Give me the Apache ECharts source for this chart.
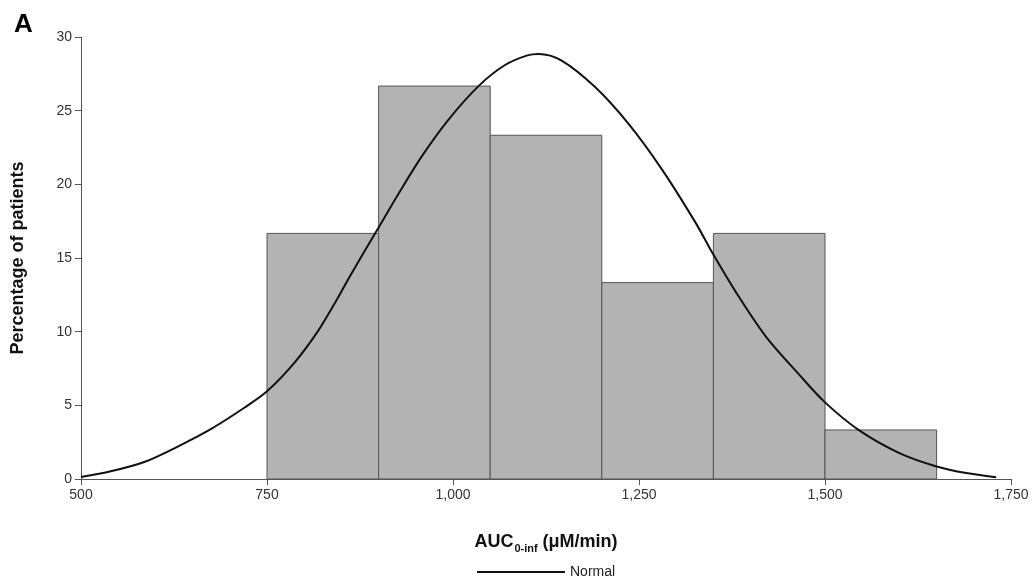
<!DOCTYPE html>
<html>
<head>
<meta charset="utf-8">
<script src="https://cdn.jsdelivr.net/npm/echarts@6/dist/echarts.min.js"></script>
<style>html,body{margin:0;padding:0;background:#fff}#c{width:1032px;height:576px}</style>
</head>
<body>
<div id="c"></div>
<script>
// Histogram bins (left edge, right edge) and percentage of patients
var binStart = [750, 900, 1050, 1200, 1350, 1500];
var binEnd   = [900, 1050, 1200, 1350, 1500, 1650];
var binPct   = [16.67, 26.67, 23.33, 13.33, 16.67, 3.33];

// Normal curve points
var normalX = [500, 540, 585, 630, 675, 720, 750, 787, 818, 843, 863, 898, 926, 958, 994, 1036, 1070, 1100, 1115, 1146, 1191, 1236, 1281, 1326, 1348, 1380, 1420, 1465, 1500, 1546, 1600, 1650, 1690, 1730];
var normalY = [0.14, 0.52, 1.15, 2.2, 3.4, 4.85, 5.95, 7.9, 10.0, 12.1, 13.9, 16.9, 19.3, 21.9, 24.4, 26.75, 28.1, 28.75, 28.85, 28.4, 26.6, 24.1, 21.0, 17.4, 15.4, 12.7, 9.7, 7.1, 5.2, 3.3, 1.76, 0.85, 0.4, 0.12];

// Axis ticks
var xTicks = [500, 750, 1000, 1250, 1500, 1750];
var yTicks = [0, 5, 10, 15, 20, 25, 30];

var FONT = 'Liberation Sans, Arial, Helvetica, sans-serif';

var histData = binStart.map(function (s, i) { return [s, binEnd[i], binPct[i]]; });
var curveData = normalX.map(function (x, i) { return [x, normalY[i]]; });

var chart = echarts.init(document.getElementById('c'), null, {renderer: 'canvas'});
chart.setOption({
  animation: false,
  backgroundColor: '#ffffff',
  title: {
    text: 'A', left: 14, top: 12, padding: 0,
    textStyle: {fontFamily: FONT, fontSize: 26, fontWeight: 'bold', color: '#000'}
  },
  grid: {left: 81, right: 21, top: 37, bottom: 97, containLabel: false, outerBoundsMode: 'none'},
  legend: {
    data: ['Normal'],
    left: 472, top: 560,
    icon: 'rect', itemWidth: 88, itemHeight: 2, itemGap: 6,
    textStyle: {fontFamily: FONT, fontSize: 14, color: '#222'}
  },
  xAxis: {
    type: 'value', min: xTicks[0], max: xTicks[xTicks.length - 1], interval: 250,
    axisLine: {show: true, lineStyle: {color: '#555', width: 1}},
    axisTick: {show: true, length: 6, lineStyle: {color: '#555'}},
    splitLine: {show: false},
    axisLabel: {
      margin: 9, fontFamily: FONT, fontSize: 14, color: '#333',
      formatter: function (v) { return v.toLocaleString('en-US'); }
    },
    name: '{b|AUC}{s|0-inf}{b| (μM/min)}',
    nameLocation: 'middle', nameGap: 51,
    nameTextStyle: {
      rich: {
        b: {fontFamily: FONT, fontSize: 18, fontWeight: 'bold', color: '#111', lineHeight: 24, verticalAlign: 'middle'},
        s: {fontFamily: FONT, fontSize: 11, fontWeight: 'bold', color: '#111', lineHeight: 24, verticalAlign: 'bottom', padding: [11, 0, 0, 1]}
      }
    }
  },
  yAxis: {
    type: 'value', min: yTicks[0], max: yTicks[yTicks.length - 1], interval: 5,
    axisLine: {show: true, lineStyle: {color: '#555', width: 1}},
    axisTick: {show: true, length: 6, lineStyle: {color: '#555'}},
    splitLine: {show: false},
    axisLabel: {margin: 9, fontFamily: FONT, fontSize: 14, color: '#333'},
    name: 'Percentage of patients',
    nameLocation: 'middle', nameGap: 54, nameRotate: 90,
    nameTextStyle: {fontFamily: FONT, fontSize: 18, fontWeight: 'bold', color: '#111'}
  },
  series: [
    {
      name: 'Histogram',
      type: 'custom',
      data: histData,
      encode: {x: [0, 1], y: 2},
      renderItem: function (params, api) {
        var p0 = api.coord([api.value(0), api.value(2)]);
        var p1 = api.coord([api.value(1), 0]);
        return {
          type: 'rect',
          shape: {x: p0[0], y: p0[1], width: p1[0] - p0[0], height: p1[1] - p0[1]},
          style: {fill: '#b3b3b3', stroke: '#555555', lineWidth: 1}
        };
      },
      z: 1
    },
    {
      name: 'Normal',
      type: 'line',
      data: curveData,
      smooth: 0.3,
      symbol: 'none',
      lineStyle: {color: '#111', width: 2},
      itemStyle: {color: '#111'},
      z: 3
    }
  ]
});
</script>
</body>
</html>
